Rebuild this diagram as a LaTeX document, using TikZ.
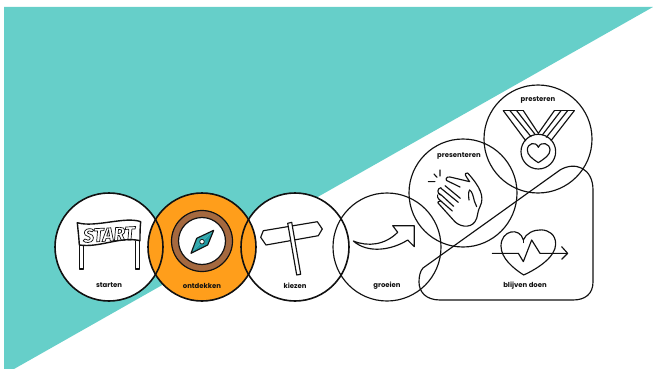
\documentclass[tikz,border=0pt]{standalone}
\usepackage{fontspec}
\setmainfont{Poppins}
\newfontfamily\startfont{Fira Sans}
\definecolor{tealbg}{HTML}{66CFC9}
\definecolor{orangefill}{HTML}{FF9E1B}
\definecolor{brownring}{HTML}{A5693F}
\definecolor{needleteal}{HTML}{1F9AA3}
\definecolor{inkdark}{HTML}{111111}
\newcommand{\hollowtext}[1]{\special{pdf:code q 1 Tr 0.7 w}#1\special{pdf:code Q}}

\begin{document}
\begin{tikzpicture}[
    x=1pt, y=-1pt,
    stepcircle/.style={circle, draw=inkdark, minimum size=108pt, inner sep=0pt},
    boldcircle/.style={stepcircle, line width=1.6pt},
    thincircle/.style={stepcircle, line width=1.15pt},
    steplabel/.style={font=\bfseries\fontsize{6.9}{8}\selectfont, text=inkdark, inner sep=0pt},
    icon/.style={draw=inkdark, line width=1.15pt, line join=round, line cap=round},
    iconthick/.style={icon, line width=1.4pt}
]
\useasboundingbox (0,0) rectangle (653,369);

% Achtergrond
\fill[tealbg] (4,7) -- (653,7) -- (14,369) -- (4,369) -- cycle;

% Witte vlakken onder de cirkels
\foreach \cx/\cy in {109/247, 295/247, 387/247, 463/193, 538/139}
    \fill[white] (\cx,\cy) circle (54);

% Cirkels
\node[boldcircle, fill=orangefill] (ontdekken) at (202,247) {};
\node[boldcircle] (starten) at (109,247) {};
\node[boldcircle] (kiezen) at (295,247) {};
\node[thincircle] (groeien) at (387,247) {};
\node[thincircle] (presenteren) at (463,193) {};
\node[thincircle] (presteren) at (538,139) {};

% Kader blijven doen
\draw[inkdark, line width=1.15pt] (423,268) -- (560,170)
    .. controls (575,161) and (593,168) .. (593,190) -- (593,282)
    .. controls (593,294) and (585,300) .. (573,300) -- (440,300)
    .. controls (426,300) and (419,292) .. (419,282)
    .. controls (419,277) and (420,271) .. (423,268) -- cycle;

% Start
\draw[iconthick, fill=white] (79.3,245) -- (79.3,269) -- (83.3,269) -- (83.3,244);
\draw[iconthick, fill=white] (135.3,241) -- (135.3,269) -- (139.3,269) -- (139.3,241);
\draw[iconthick, fill=white] (77.3,222.7)
    .. controls (95,228) and (125,216) .. (140.7,221.7)
    .. controls (140,228) and (140,234) .. (140,240.7)
    .. controls (120,236) and (100,248) .. (79.3,245)
    .. controls (79,238) and (78,230) .. (77.3,222.7) -- cycle;
\node[inner sep=0pt, rotate=3, text=inkdark] (starttext) at (109,234.5)
    {\startfont\bfseries\itshape\fontsize{19}{19}\selectfont\hollowtext{START}};

% Kompas
\draw[inkdark, line width=1.2pt, fill=brownring] (ontdekken.center) ++(0,-6) circle (30.5);
\draw[inkdark, line width=1.2pt, fill=white] (202,241) circle (23.5);
\fill[needleteal!70!tealbg] (213.7,230.3) -- (196.7,238.3) -- (191,253.3) -- cycle;
\fill[needleteal] (213.7,230.3) -- (207.7,245) -- (191,253.3) -- cycle;
\draw[icon] (213.7,230.3) -- (196.7,238.3) -- (191,253.3) -- (207.7,245) -- cycle;
\draw[inkdark, line width=0.7pt, fill=white] (202,241.7) circle (2.3);

% Wegwijzer
\draw[icon, fill=white] (260.7,237.3) -- (263.3,230.7) -- (317.3,221.7) -- (322.3,229)
    -- (318.3,235.7) -- (266,245) -- cycle;
\draw[icon, fill=white] (287.7,223.3) -- (291.7,222.3) -- (300.7,274.3) -- (296.7,275) -- cycle;

% Pijl groeien
\draw[icon] (353.3,241) .. controls (368,247) and (385,245) .. (397.7,232.3)
    -- (392.7,225.7) -- (414.3,225.7) -- (414.3,246.7) -- (407.7,240)
    .. controls (392,250) and (368,254) .. (353.3,241) -- cycle;

% Klappende handen
\begin{scope}[shift={(425,165)}, scale=0.3333]
    \draw[icon] (10,50) -- (30,50) (45,15) -- (45,33) (27,27) -- (36,37);
    \draw[icon] (40,115) -- (85,165) .. controls (100,185) and (135,192) .. (150,170)
        .. controls (160,155) and (155,145) .. (165,125)
        .. controls (180,95) and (165,65) .. (128,24)
        .. controls (122,20) and (118,28) .. (125,37) -- (134,50)
        -- (75,36) .. controls (62,33) and (58,48) .. (72,50) -- (105,66);
    \draw[icon] (132,105) .. controls (130,90) and (130,80) .. (134,75)
        .. controls (142,80) and (145,95) .. (148,108) -- (155,125);
    \draw[icon] (60,62) -- (106,100);
    \draw[icon] (48,70) -- (100,112);
    \draw[icon] (42,85) .. controls (50,90) and (70,110) .. (86,124);
    \draw[icon] (48,68) .. controls (36,70) and (36,85) .. (46,90)
        (38,90) .. controls (35,100) and (45,105) .. (52,112) -- (82,138);
    \draw[icon] (48,108) .. controls (38,108) and (36,115) .. (40,115);
\end{scope}

% Medaille
\begin{scope}[shift={(495,100)}, scale=0.3333]
    \draw[icon] (25,32) -- (85,32) (178,32) -- (238,32);
    \draw[icon] (25,32) -- (92,122) (45,32) -- (108,110) (65,32) -- (120,103) (85,32) -- (130,100);
    \draw[icon] (238,32) -- (168,122) (218,32) -- (154,112) (198,32) -- (142,105) (178,32) -- (130,100);
    \draw[icon] (130,155) circle (52);
    \draw[icon] (130,188) .. controls (110,175) and (97,165) .. (97,150)
        .. controls (97,130) and (122,122) .. (130,142)
        .. controls (138,122) and (165,130) .. (165,150)
        .. controls (165,165) and (150,175) .. (130,188) -- cycle;
\end{scope}

% Hart
\begin{scope}[shift={(485,220)}, scale=0.3333]
    \draw[icon] (116,165) .. controls (85,145) and (48,115) .. (48,78)
        .. controls (48,30) and (105,20) .. (115,60)
        .. controls (130,20) and (212,15) .. (212,72)
        .. controls (212,110) and (160,145) .. (116,165) -- cycle;
    \draw[icon] (115,58) -- (115,68);
    \draw[icon] (22,100) -- (100,100) -- (115,125) -- (140,60) -- (165,100) -- (245,100);
    \draw[icon] (230,80) -- (248,100) -- (230,118);
\end{scope}

% Labels
\node[steplabel] (startenlabel) at (109,285.5) {starten};
\node[steplabel] (ontdekkenlabel) at (202,285.5) {ontdekken};
\node[steplabel] (kiezenlabel) at (295,285.5) {kiezen};
\node[steplabel] (groeienlabel) at (387,285.5) {groeien};
\node[steplabel] (blijvenlabel) at (525,285.5) {blijven doen};
\node[steplabel] (presenterenlabel) at (459,156.5) {presenteren};
\node[steplabel] (presterenlabel) at (538,100.5) {presteren};
\end{tikzpicture}
\end{document}
